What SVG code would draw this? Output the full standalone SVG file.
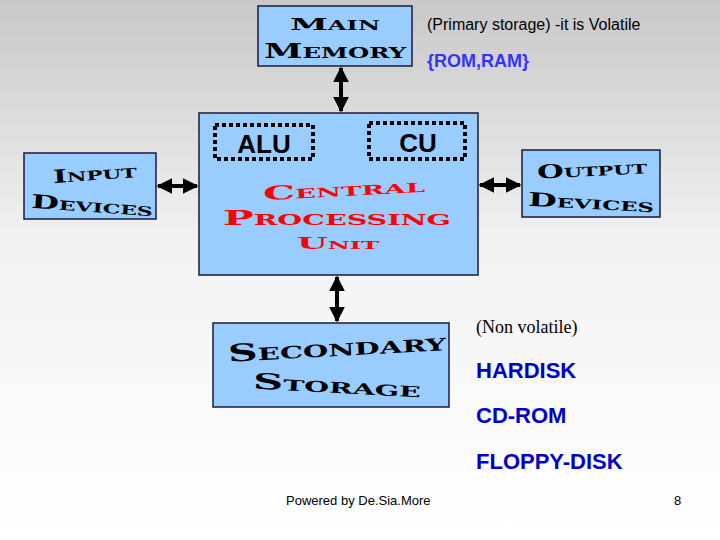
<svg xmlns="http://www.w3.org/2000/svg" width="720" height="540" viewBox="0 0 720 540">
<defs>
<linearGradient id="bg" x1="0" y1="0" x2="0" y2="1">
<stop offset="0" stop-color="#c8c8c8"/><stop offset="0.45" stop-color="#f2f2f2"/><stop offset="1" stop-color="#ffffff"/>
</linearGradient>
<marker id="ah" viewBox="0 0 10 10" refX="9" refY="5" markerWidth="4" markerHeight="4" orient="auto-start-reverse">
<path d="M0,0 L10,5 L0,10 z" fill="#000"/>
</marker>
</defs>
<style>
.box{fill:#99ccff;stroke:#1a1a3a;stroke-width:1.5}
.dot{fill:none;stroke:#000;stroke-width:4;stroke-dasharray:4 3}
.wa{font-family:"DejaVu Serif",serif;font-weight:bold;font-variant:small-caps;text-anchor:middle;fill:#000}
.red{fill:#ff0000}
.lab{font-family:"Liberation Sans",Arial,sans-serif}
.arr{stroke:#000;stroke-width:4;fill:none;marker-start:url(#ah);marker-end:url(#ah)}
</style>
<rect width="720" height="540" fill="url(#bg)"/>
<g id="connectors">
<line class="arr" x1="341" y1="68" x2="341" y2="111"/>
<line class="arr" x1="158" y1="186" x2="197" y2="186"/>
<line class="arr" x1="480" y1="185" x2="520" y2="185"/>
<line class="arr" x1="337" y1="277" x2="337" y2="321"/>
</g>
<g id="main-memory">
<rect class="box" x="258" y="6" width="154" height="60"/>
<text class="wa" x="335" y="30" font-size="17" textLength="90" lengthAdjust="spacingAndGlyphs">Main</text>
<text class="wa" x="335" y="58" font-size="20" textLength="142" lengthAdjust="spacingAndGlyphs">Memory</text>
</g>
<g id="cpu">
<rect class="box" x="199" y="113" width="279" height="162"/>
<text class="wa red" x="344" y="196" font-size="19" textLength="162" lengthAdjust="spacingAndGlyphs" transform="rotate(-3 344 190)">Central</text>
<text class="wa red" x="337" y="225" font-size="20" textLength="228" lengthAdjust="spacingAndGlyphs">Processing</text>
<text class="wa red" x="338" y="249" font-size="16" textLength="82" lengthAdjust="spacingAndGlyphs">Unit</text>
</g>
<g id="alu">
<rect class="dot" x="215" y="125" width="98" height="34"/>
<text class="lab" x="264" y="153" font-size="26" font-weight="bold" text-anchor="middle">ALU</text>
</g>
<g id="cu">
<rect class="dot" x="369" y="123" width="96" height="36"/>
<text class="lab" x="418" y="152" font-size="26" font-weight="bold" text-anchor="middle">CU</text>
</g>
<g id="input-devices">
<rect class="box" x="24" y="153" width="132" height="66"/>
<text class="wa" x="95" y="180" font-size="18" textLength="84" lengthAdjust="spacingAndGlyphs" transform="rotate(-4 95 175)">Input</text>
<text class="wa" x="92" y="212" font-size="19" textLength="122" lengthAdjust="spacingAndGlyphs" transform="rotate(4 92 206)">Devices</text>
</g>
<g id="output-devices">
<rect class="box" x="522" y="150" width="138" height="67"/>
<text class="wa" x="592" y="176" font-size="19" textLength="110" lengthAdjust="spacingAndGlyphs" transform="rotate(-3 592 170)">Output</text>
<text class="wa" x="591" y="209" font-size="19" textLength="126" lengthAdjust="spacingAndGlyphs" transform="rotate(3 591 203)">Devices</text>
</g>
<g id="secondary-storage">
<rect class="box" x="213" y="323" width="236" height="84"/>
<text class="wa" x="337" y="356" font-size="24" textLength="218" lengthAdjust="spacingAndGlyphs" transform="rotate(-3 337 348)">Secondary</text>
<text class="wa" x="337" y="393" font-size="22" textLength="168" lengthAdjust="spacingAndGlyphs" transform="rotate(3 337 386)">Storage</text>
</g>
<g id="labels">
<text class="lab" x="427" y="30" font-size="16">(Primary storage) -it is Volatile</text>
<text class="lab" x="427" y="67" font-size="18" font-weight="bold" fill="#3333ff">{ROM,RAM}</text>
<text x="476" y="333" font-size="18" font-family="Liberation Serif,serif">(Non volatile)</text>
<text class="lab" x="476" y="378" font-size="22" font-weight="bold" fill="#0000cc">HARDISK</text>
<text class="lab" x="476" y="423" font-size="22" font-weight="bold" fill="#0000cc">CD-ROM</text>
<text class="lab" x="476" y="469" font-size="22" font-weight="bold" fill="#0000cc">FLOPPY-DISK</text>
<text class="lab" x="286" y="505" font-size="13">Powered by De.Sia.More</text>
<text class="lab" x="674" y="505" font-size="13">8</text>
</g>
</svg>
